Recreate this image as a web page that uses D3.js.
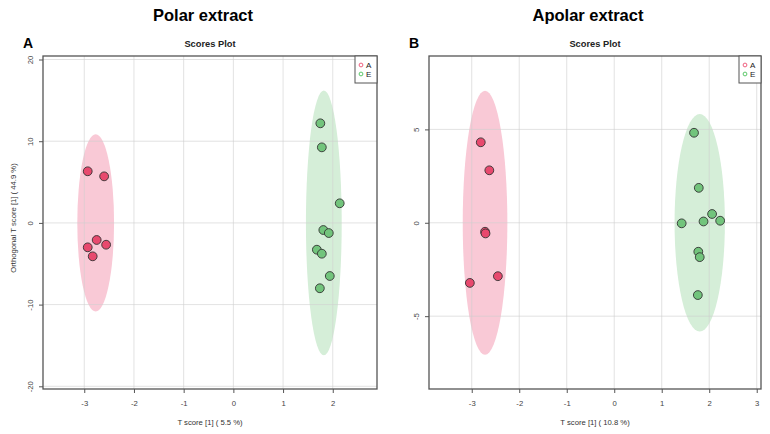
<!DOCTYPE html>
<html>
<head>
<meta charset="utf-8">
<script src="https://cdn.jsdelivr.net/npm/d3@7"></script>
<style>
  body { margin: 0; background: #fff; }
  svg { font-family: "Liberation Sans", Arial, sans-serif; }
</style>
</head>
<body>
<svg id="chart" width="770" height="434"></svg>
<script>
// values: [T score, orthogonal T score]
const groups = ["A", "E"];
const groupFill = { A: "#e8496e", E: "#72c47c" };
const groupLegend = { A: "#f0607f", E: "#5cc86a" };
const groupEllipse = { A: "#f9c9d6", E: "#d5eed8" };

const polarA = [[-2.93, 6.32], [-2.60, 5.70], [-2.75, -2.09], [-2.56, -2.67], [-2.93, -2.99], [-2.83, -4.09]];
const polarE = [[1.75, 12.19], [1.78, 9.25], [2.14, 2.40], [1.81, -0.87], [1.92, -1.24],
                [1.68, -3.28], [1.78, -3.77], [1.94, -6.50], [1.74, -8.00]];
const apolarA = [[-2.81, 4.31], [-2.63, 2.81], [-2.72, -0.48], [-2.71, -0.57], [-2.45, -2.86], [-3.04, -3.22]];
const apolarE = [[1.68, 4.82], [1.78, 1.87], [2.06, 0.47], [1.42, -0.03], [1.88, 0.07],
                 [2.23, 0.11], [1.77, -1.55], [1.80, -1.84], [1.76, -3.87]];

// confidence ellipses: centre and semi-axes in data units
const polarEllipses = [
  { group: "A", cx: -2.77, cy: 0, rx: 0.37, ry: 10.85 },
  { group: "E", cx: 1.82, cy: 0, rx: 0.36, ry: 16.2 }
];
const apolarEllipses = [
  { group: "A", cx: -2.72, cy: 0, rx: 0.47, ry: 7.07 },
  { group: "E", cx: 1.80, cy: 0, rx: 0.53, ry: 5.82 }
];

const polarXTicks = [-3, -2, -1, 0, 1, 2];
const polarYTicks = [-20, -10, 0, 10, 20];
const apolarXTicks = [-3, -2, -1, 0, 1, 2, 3];
const apolarYTicks = [-5, 0, 5];

const svg = d3.select("#chart");
const fmt = d => (d < 0 ? "-" + Math.abs(d) : String(d));

function panel(cfg) {
  const x = d3.scaleLinear().domain(cfg.xDomain).range([cfg.left, cfg.right]);
  const y = d3.scaleLinear().domain(cfg.yDomain).range([cfg.bottom, cfg.top]);
  const g = svg.append("g");

  // header texts
  g.append("text")
    .attr("x", cfg.titleX).attr("y", 21)
    .attr("text-anchor", "middle")
    .style("font-size", "16.5px").style("font-weight", "bold")
    .text(cfg.title);
  g.append("text")
    .attr("x", cfg.letterX).attr("y", 48)
    .style("font-size", "14px").style("font-weight", "bold")
    .text(cfg.letter);
  g.append("text")
    .attr("x", cfg.subX).attr("y", 46.5)
    .attr("text-anchor", "middle")
    .style("font-size", "9.3px").style("font-weight", "bold")
    .attr("fill", "#222")
    .text("Scores Plot");

  // ellipses
  g.append("g").selectAll("ellipse")
    .data(cfg.ellipses)
    .join("ellipse")
    .attr("cx", d => x(d.cx))
    .attr("cy", d => y(d.cy))
    .attr("rx", d => x(d.cx + d.rx) - x(d.cx))
    .attr("ry", d => y(d.cy) - y(d.cy + d.ry))
    .attr("fill", d => groupEllipse[d.group]);

  // grid
  g.append("g").selectAll("line")
    .data(cfg.xTicks)
    .join("line")
    .attr("x1", d => x(d)).attr("x2", d => x(d))
    .attr("y1", cfg.top).attr("y2", cfg.bottom)
    .attr("stroke", "#cfcfcf").attr("stroke-opacity", 0.6).attr("stroke-width", 1);
  g.append("g").selectAll("line")
    .data(cfg.yTicks)
    .join("line")
    .attr("y1", d => y(d)).attr("y2", d => y(d))
    .attr("x1", cfg.left).attr("x2", cfg.right)
    .attr("stroke", "#cfcfcf").attr("stroke-opacity", 0.6).attr("stroke-width", 1);

  // points
  const pts = [];
  cfg.series.forEach((s, i) => s.forEach(p => pts.push({ group: groups[i], t: p[0], o: p[1] })));
  g.append("g").selectAll("circle")
    .data(pts)
    .join("circle")
    .attr("cx", d => x(d.t))
    .attr("cy", d => y(d.o))
    .attr("r", 4.4)
    .attr("fill", d => groupFill[d.group])
    .attr("stroke", "#333")
    .attr("stroke-width", 0.9);

  // axes
  const xAxis = g.append("g")
    .attr("transform", `translate(0,${cfg.bottom})`)
    .call(d3.axisBottom(x).tickValues(cfg.xTicks).tickFormat(fmt).tickSize(4).tickPadding(8))
    .attr("font-family", null);
  xAxis.select(".domain").remove();
  xAxis.selectAll("line").attr("stroke", "#555");
  xAxis.selectAll("text").style("font-size", "7.7px").attr("fill", "#444");

  const yAxis = g.append("g")
    .attr("transform", `translate(${cfg.left},0)`)
    .call(d3.axisLeft(y).tickValues(cfg.yTicks).tickFormat(fmt).tickSize(4))
    .attr("font-family", null);
  yAxis.select(".domain").remove();
  yAxis.selectAll("line").attr("stroke", "#555");
  yAxis.selectAll("text")
    .attr("x", null).attr("dy", null)
    .attr("text-anchor", "middle")
    .attr("transform", "translate(-10,0) rotate(-90)")
    .style("font-size", "7.7px").attr("fill", "#444");

  // plot frame
  g.append("rect")
    .attr("x", cfg.left).attr("y", cfg.top)
    .attr("width", cfg.right - cfg.left).attr("height", cfg.bottom - cfg.top)
    .attr("fill", "none").attr("stroke", "#555").attr("stroke-width", 1.3);

  // axis titles
  g.append("text")
    .attr("x", cfg.xTitleX).attr("y", 425)
    .attr("text-anchor", "middle")
    .style("font-size", "7.7px").attr("fill", "#333")
    .text(cfg.xTitle);
  if (cfg.yTitle) {
    g.append("text")
      .attr("transform", `translate(16,${218}) rotate(-90)`)
      .attr("text-anchor", "middle")
      .style("font-size", "7.7px").attr("fill", "#333")
      .text(cfg.yTitle);
  }

  // legend
  const lg = g.append("g");
  lg.append("rect")
    .attr("x", cfg.right - 22).attr("y", cfg.top)
    .attr("width", 22).attr("height", 27)
    .attr("fill", "#fff").attr("stroke", "#555").attr("stroke-width", 1);
  groups.forEach((k, i) => {
    lg.append("circle")
      .attr("cx", cfg.right - 16).attr("cy", cfg.top + 9 + i * 9)
      .attr("r", 1.9)
      .attr("fill", "none").attr("stroke", groupLegend[k]).attr("stroke-width", 1);
    lg.append("text")
      .attr("x", cfg.right - 11).attr("y", cfg.top + 11.8 + i * 9)
      .style("font-size", "8px").attr("fill", "#222")
      .text(k);
  });
}

panel({
  title: "Polar extract", titleX: 203, letter: "A", letterX: 23, subX: 210,
  left: 43, right: 377, top: 56, bottom: 389,
  xDomain: [-3.83, 2.89], yDomain: [-20.33, 20.43],
  xTicks: polarXTicks, yTicks: polarYTicks,
  series: [polarA, polarE], ellipses: polarEllipses,
  xTitle: "T score [1] ( 5.5 %)", xTitleX: 210,
  yTitle: "Orthogonal T score [1] ( 44.9 %)"
});

panel({
  title: "Apolar extract", titleX: 588, letter: "B", letterX: 409, subX: 595,
  left: 429, right: 761, top: 56, bottom: 389,
  xDomain: [-3.9, 3.09], yDomain: [-8.9, 8.93],
  xTicks: apolarXTicks, yTicks: apolarYTicks,
  series: [apolarA, apolarE], ellipses: apolarEllipses,
  xTitle: "T score [1] ( 10.8 %)", xTitleX: 595,
  yTitle: null
});
</script>
</body>
</html>
